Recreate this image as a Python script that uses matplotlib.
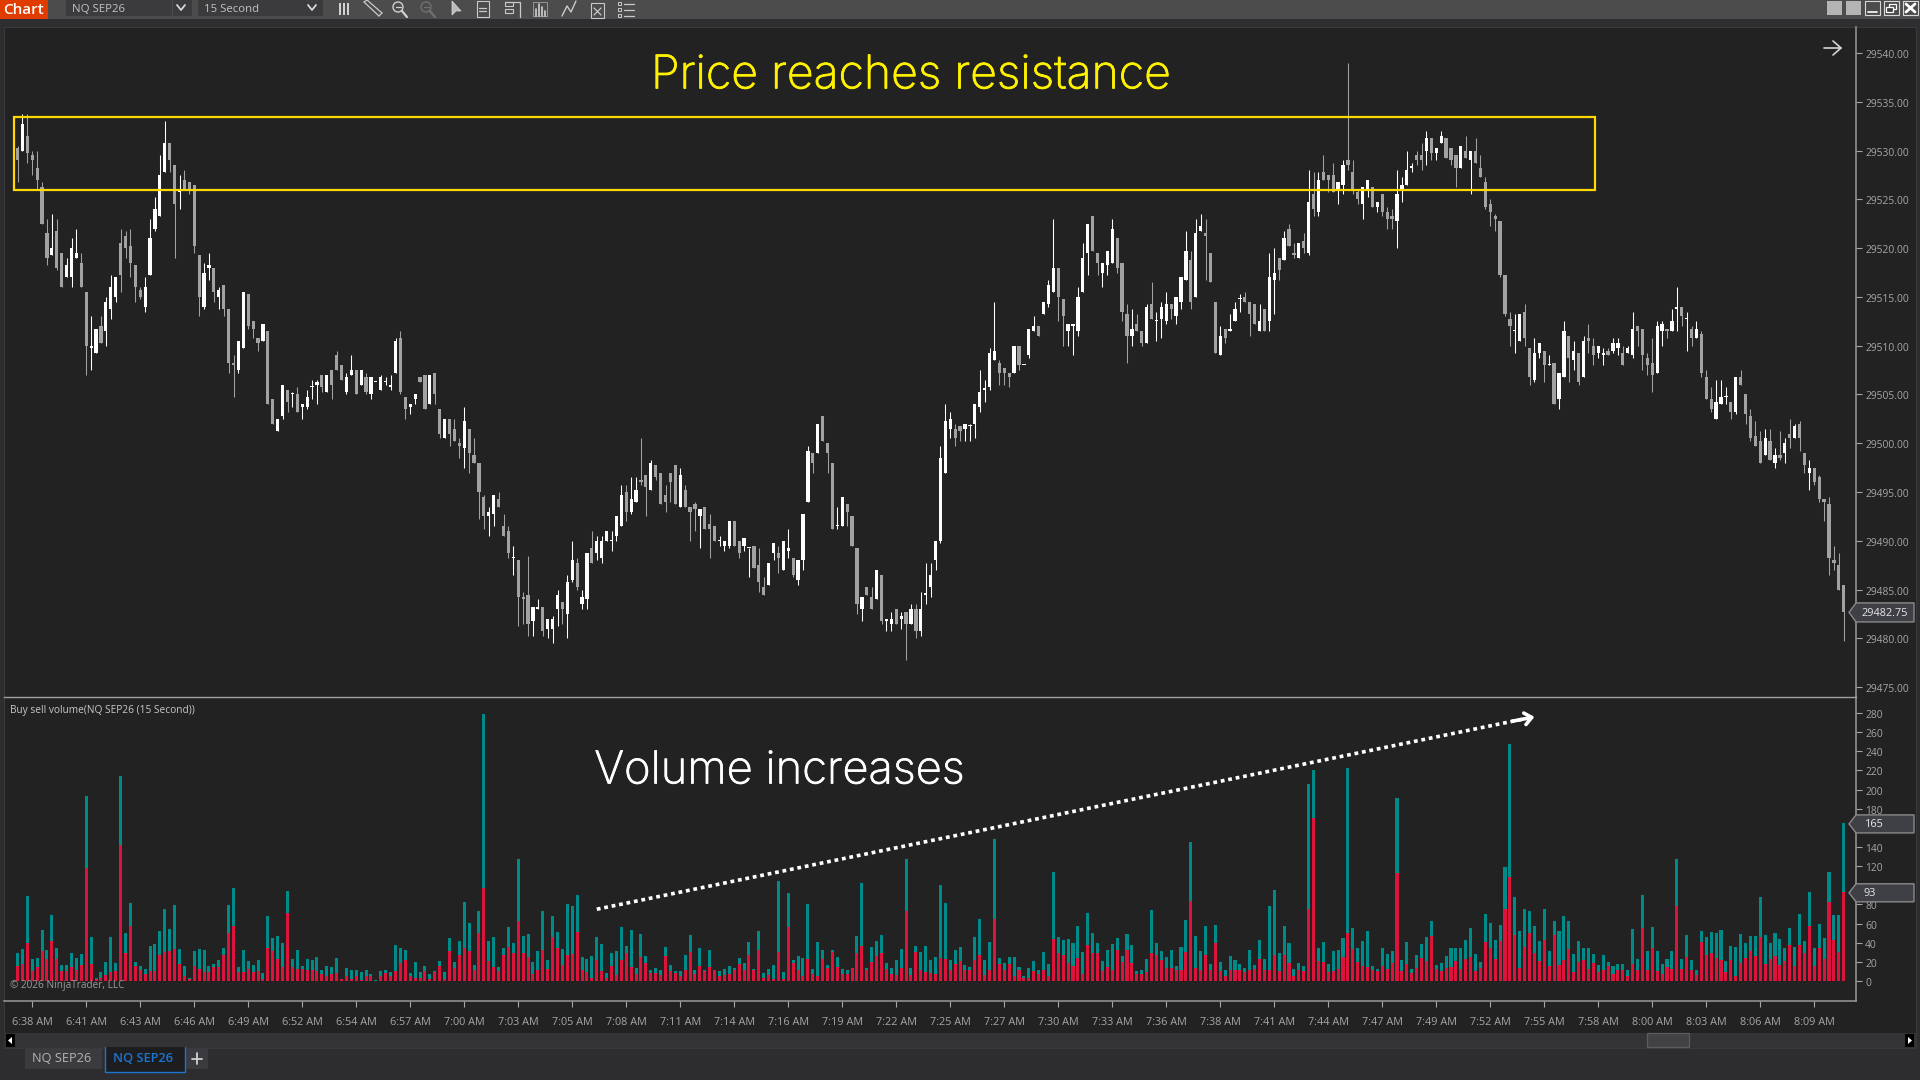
import numpy as np
import matplotlib
matplotlib.use("Agg")
import matplotlib.pyplot as plt
import matplotlib.patheffects as pe
from matplotlib.patches import Rectangle, Polygon
from matplotlib.transforms import ScaledTranslation

PRICE_BASE = 29475.0
open_pts = [
55.25,55,56.5,54.5,53.25,51.25,46.5,44.25,46.75,44.5,
42,42,44,43.5,40.5,34.75,34.25,37,36.5,38.75,
40,45.5,46.25,45.25,43.25,40.75,39,42.25,47,48.25,
52.75,55.75,53.5,50.75,52,51.75,51.5,44.25,39,43,
43,40,41.25,38.75,33.25,32.5,34.75,40.25,37.5,35.75,
35.5,36.5,29.5,26.25,27.75,30.5,30,30,28.75,28.75,
30.75,31,32,30.25,32.5,34,33,30.25,32,32.5,
31,31.75,30,31.25,30.5,31.25,30.75,32.25,35.75,29.75,
28.75,29.5,31.75,32,29,32.25,28.5,25.5,27.5,26.5,
25,24.5,26.5,23.75,23,19.5,17.5,17.75,19.25,16.5,
16,13.25,13,9.25,9.5,6.75,8,8.25,6,6,
8,8.75,7.5,11,12.75,8.5,9,14.25,13.75,13.25,
15,15,15.5,16.5,20,18,19,21.25,21.75,20.25,
22.75,22,19.75,22,22.75,18.5,20.25,18.5,18.75,17.5,
18.5,16.75,16.5,15,14.5,14.5,17,15,14.5,14.25,
14.5,12.5,10.25,10.5,13.75,13.75,12,14,13.25,11,
13,19,24,24,27.75,25,23,16.5,16.5,18.75,
17.5,14.25,8,10.25,9.25,9,11.5,6.75,6.5,8,
7,7.75,6.5,8,5.75,9.5,10.25,13,15,22,
26.5,26.5,26.75,26.5,26.75,27,28.75,30.5,30.75,33.5,
33.25,32.75,32.25,32.25,35,33,34,36.5,37,38.25,
39.25,40.5,43,39.75,36.5,37,36.5,40.5,44.5,48.25,
44.5,42.5,43.25,43.5,46,43.5,38.25,36,37.25,36.5,
35.25,39.25,37.5,37.75,37.5,39.25,38,39.5,41.75,43.75,
40,46.75,46.5,44.5,39.5,34,36.75,36.5,37.5,39.75,
40,39.5,39.25,36.5,38.75,37.5,41.75,44,43.75,47,
44.5,44,45.75,44.5,50.5,48.75,52.75,52.5,52.5,51,
51.5,54,52.75,50.75,49.5,51,51.25,49.25,50.5,48.75,
48.25,47.75,51,51.5,53.25,54.5,54.5,55,56.25,54.75,
55.75,56.25,55.25,54.5,53.25,55,54,55,53.25,51.75,
49.5,48.25,47.75,42.25,37.75,36.5,35.5,38.5,34.75,31.5,
34.25,34.5,33,33.25,29.5,31.75,36,33.5,34.25,31.75,
35.75,35,34.25,34,34.5,34.5,34.75,34.25,34.25,34,
37,36.75,33.75,33.25,32.25,36.5,36.75,36.5,38.75,39,
37.75,36.75,35.75,36.25,31.75,29.5,27.5,29,29.75,29.25,
28.25,31.75,30,27.75,25.75,25.25,23.75,25.25,23,23.75,
24,26,25.5,27,24,22,22.5,21.5,19.25,18.75,
13,12.5,10.5]
high_pts = [
55.5,58.75,58.75,55,55,51.75,48,48.5,48,44.5,
44,46,47,44.5,40.5,38,36.75,38,40,42.25,
42,47,46.75,47,43.25,41,42,48,50.25,54.5,
58,55.75,53.5,52.5,53,51.75,51.5,44.25,43.5,44.5,
43,41,41.25,38.75,34,35.5,40.5,40.25,37.5,35.75,
37.25,36.5,29.5,27.5,31,30.5,30.25,30.75,29,30.5,
31.5,31.5,32,32,32.5,34.5,33,32.25,34,32.5,
32.5,32.25,31.75,31.25,32,31.75,32,35.75,36.5,29.75,
29,30,31.75,32,32,32.25,28.5,27.5,27.5,27.5,
25.5,28.75,26.5,25.5,23,19.75,18.5,19.75,20,17.75,
16.5,14.5,13,9.75,13.5,8.25,9,8.25,7,7.25,
10,8.75,11.5,15,13.25,10,13.75,16,15.5,15.5,
16,16,17.5,20.75,20.75,21.5,21.5,25.5,21.75,23.25,
22.75,22,20.75,22,22.75,22.5,20.75,18.5,19,18.25,
18.5,17.75,16.5,15.5,15,17,17,15,15.25,14.25,
14.5,14.25,11.25,12.75,14.75,14.5,15,16.25,13.25,13,
17.75,24.75,24,27,27.75,25,23,18.5,19.5,18.75,
17.5,14.25,9.25,10.25,10.25,12,11.5,7,7.75,8,
7.75,7.75,8.5,8.5,9.75,12.75,12.75,15,24.75,29,
28.25,27,26.75,27,27,29,32.5,31.5,34.75,39.5,
33.5,32.75,32.25,35,35,33,36.75,38,37,39.5,
41.75,48,43,39.75,37.25,37.25,41,45.5,47.5,48.25,
44.5,43.5,44.75,48,46,43.5,39.25,38.75,38.25,36.5,
39.25,41.5,38.5,39.5,40.5,39.25,40,42,46.75,44.75,
48,48.5,48,44.5,39.5,37,36.75,38.25,39.5,40.25,
40.5,39.5,39.25,39.25,38.75,44.5,45,44,46.75,47.5,
45.5,45.5,46.5,53,52.75,52.75,54.5,52.5,53.75,51.75,
54,64,54,51,51.25,52,51.25,49.75,50.5,49.25,
49,53,52.25,55,53.75,55,55.75,57,56.25,55.25,
57,56.25,55.25,54.5,55.5,56.5,55,56.25,54.5,52.25,
50,48.5,47.75,42.25,38.5,38.25,38.25,39.25,34.75,35.75,
35.25,34.5,34,33.25,32.25,37.5,36,35.5,34.25,36,
37.25,35.75,35,34.75,34.75,35.75,35.75,35,35,38.5,
37,36.75,34.25,35.75,37.5,37.5,36.75,38.75,41,39,
38.5,37,37.5,36.5,32.5,30.75,31.5,31.5,30.75,29.25,
31.75,32.5,30,28.5,27.25,26.25,26.5,26.5,24.5,26.25,
25.5,27.5,27,27.25,24,23.25,22.5,21.75,19.25,19.5,
14.5,13.75,10.5]
low_pts = [
51.75,55,53.75,52.5,51,47.5,43.25,44.25,42.75,41,
42,41,44,41,32,32.5,34.25,35.25,35,37.75,
39.5,40.5,44,42,39.5,39.75,38.5,42.25,46.75,48.25,
52.75,52.75,44,49,51,50.5,44.5,38,38.75,41.75,
39.5,38.75,38,32.25,29.75,32.25,34.75,36.75,35.75,34.5,
35.5,29,27,26.25,27.5,28.25,28.75,28.25,27.5,28.5,
29.5,29,30.25,30.25,29.5,32.5,31.5,30,32,30,
31,30,29.5,31.25,30.5,31,30.5,32.25,30,27.5,
28,29,31.25,28.5,29,29,25.5,25.5,24.75,25.25,
23.5,22.5,22,23,17.25,16.25,15.5,16.5,18.5,15.5,
13.25,11.5,6.25,6.5,5.25,5.25,8,5.25,5,4.5,
6.25,6.5,5,10.75,10,8,8,12.75,13,12.75,
15,14,15,16.5,17,17.75,19,20.75,17.5,20.25,
21.25,18.75,18,19,18.75,18.5,18.5,15,16,14.25,
16.25,13.25,15,14.5,14,14.25,14.5,13.25,14,11.25,
12.25,9.75,9.5,10.5,13,11.75,12,13.25,11.25,10.5,
12,19,22,24,25.25,22,16.25,16.25,16.5,16.5,
14.5,7.5,6.75,9.5,8,9,6.5,5.75,5.75,6.5,
6,2.75,6.5,5,5.25,8.5,9.25,12,14.75,22,
25.5,24.75,25.25,25.25,25.25,25.5,28.25,29.25,30.5,33.5,
31,31,30.75,32.25,32.5,33,33.75,36.5,36,38.25,
39,40.5,37.5,35,35,34,36,40.5,42.25,44.75,
42.25,41,42.25,43.5,42.5,37.5,33.25,35,36.5,35,
35.25,37.75,35.5,35.75,37.25,37.75,37.25,38.75,41.75,38.75,
40,46.75,41.75,41.5,34.25,34,35.25,36.5,37.5,38.5,
39.5,36,37.25,36.5,36.5,36.5,38.25,41.75,43.75,45.25,
44,44,44.5,44.25,48.25,48.25,52,50.75,50.75,49.5,
50.5,53,50.5,49.5,48,50.25,49.25,48.75,48.25,47,
47,45,49.75,51.5,52.75,53.5,53,53.5,54,54,
55.75,54.25,53.5,51.25,53.25,54.25,50.5,53.75,52.25,49,
47.25,46.75,42,38,35,34.25,35.5,35,31,31.25,
33.75,31.25,33,29,28.5,31.75,31.25,32.5,31,31.75,
34.25,33,33.75,33,34,34.25,34,33,34.25,33.75,
35,32.5,32,30.25,32.25,35,35.75,36.5,36.5,37,
34.5,35,35.75,31.75,29.5,28.25,27.5,29,29,27.5,
28,31,27,25.25,24.75,23,23.75,23.25,22.5,23.25,
23,24.5,25.5,24.25,22,20.25,20.75,19,17,11.5,
12,10,4.75]
close_pts = [
54,57.75,54.75,54,52,47.5,44,45,43,41,
43.25,45,44.5,41,35,35,36.75,35.25,39.5,41,
42,42.25,45,43.5,41,40,41,46,49,52.5,
55.75,54,49.5,50.75,51,51,45.25,40,42.5,43.25,
40.5,40.75,38.75,33.25,33,35.5,40.5,37,36.75,35.25,
37.25,29,27,27.5,31,29.25,30,28.25,29,29.75,
30.75,31.25,30.75,32,31,32.5,31.5,31.75,32.5,30,
32.5,30.25,31.75,31.25,31.75,31.25,31,35.5,30.25,28.5,
29,30,31.25,28.5,32,30,26,27.5,26,25.25,
24.75,27.25,24,23,20,17.5,18,19.75,18.5,15.5,
13.75,13.25,9.25,9,6.5,8.25,8.25,5.75,7,7,
9.5,8,10.75,13,10.25,9.25,13.75,12.75,15,15,
16,15,17.5,19.75,18,19.25,20.25,21,20.5,23,
21.5,18.75,19,21,18.75,21.75,18.5,18,18.25,18.25,
16.25,16.25,15,15,15,17,14.5,13.75,15.25,14.25,
12.25,10.75,9.5,12.75,14.75,13.25,15,14.25,11.5,13,
17.75,24.25,23,27,25.25,24,16.25,16.5,19.5,18,
14.5,8.5,9.25,9.5,8,12,6.75,7,7,6.5,
7.25,6.5,8,5.75,8,9.5,11.5,15,23.5,27.25,
27.5,25.5,26.25,27,26.75,29,30.25,30.5,34.25,34.5,
32.25,32.25,31.75,35,33,33,36.75,37,36,39.5,
41.25,43,40,38,37.25,37.25,40,44,47.5,44.75,
43.5,43.5,44.75,47,43,38.5,36,36.75,36.5,35.25,
39,37.75,37.5,39,39.25,38.75,40,42,44.75,39.5,
46.5,47.25,46.25,41.5,34.25,36,35.75,36.75,38.75,39.75,
39.5,38.25,37.25,37.5,36.5,42,42.5,42.75,46,45.25,
44.25,45.5,45,49.75,49,52,52,52,50.75,51.75,
53.5,53.5,51,50,51.25,52,49.25,49.75,48.75,48,
48,50.5,51.5,53,53.25,54,54,56.25,54.75,55.25,
56.5,54.25,54,53.25,55.5,54.25,55,53.75,52.25,49.25,
48.75,48,42.25,38.25,37,36.5,38.25,35.75,31.75,34.25,
35.25,33,33,29,32.25,36.5,33.75,34.5,31.25,35.5,
35.5,34,35,34.25,34,35.25,35.25,33,34.75,36.75,
36.5,34,33,32,37,37.25,36.5,37.5,39,38,
37.75,35.75,36.75,32.25,29.5,28.5,29.25,29.75,29.75,28.25,
31.75,31,28,25.5,24.75,23,25.5,23.25,23.75,23.5,
25,25.5,26.75,25.5,22.75,22.5,21,19.25,19,13.25,
12.75,10,7.75]
volume_total = [
29,33,89,23,24,53,32,69,34,17,
17,29,24,28,193,46,3,9,20,46,
19,214,50,82,20,16,13,37,39,52,
75,54,79,33,16,3,31,33,32,16,
18,22,34,79,97,15,32,21,17,22,
8,68,45,47,40,94,23,32,16,23,
22,25,12,16,15,24,2,14,12,12,
9,11,7,1,10,11,9,38,35,32,
8,20,9,16,7,10,21,9,45,20,
42,83,61,17,73,279,42,46,15,35,
56,40,128,47,49,20,31,73,22,68,
51,33,80,78,90,25,23,26,46,39,
8,29,31,56,37,53,14,49,26,11,
14,11,36,17,10,10,27,48,11,35,
11,32,11,10,13,16,14,24,19,41,
13,52,8,13,17,105,9,92,22,26,
24,80,13,41,32,17,32,25,13,12,
14,47,102,14,36,42,48,19,14,22,
33,127,14,37,30,37,22,25,100,81,
22,32,36,17,15,46,65,22,41,148,
24,19,25,25,15,5,14,21,11,30,
18,114,46,43,44,40,58,30,71,50,
40,21,32,39,45,26,49,38,10,11,
23,74,40,31,25,32,16,36,64,145,
47,31,57,18,59,20,12,26,22,18,
14,32,17,43,23,78,95,29,58,40,
13,19,16,206,221,35,41,18,31,32,
45,223,55,34,42,52,16,13,35,28,
31,191,22,41,13,27,39,46,63,17,
19,26,34,34,34,43,55,28,20,70,
61,43,59,119,248,88,52,75,73,58,
42,75,31,63,52,68,63,28,42,35,
34,28,17,27,20,16,18,18,11,54,
23,90,31,56,31,18,23,31,128,23,
48,22,11,52,46,51,50,53,21,37,
36,49,40,47,47,88,48,40,50,44,
35,55,36,70,42,93,34,60,45,114,
69,69,165]
volume_sell = [
16,18,40,10,15,31,23,42,23,10,
10,15,12,17,118,18,2,3,6,9,
10,142,29,57,16,12,7,10,10,27,
30,31,33,18,5,2,16,13,9,9,
15,15,27,50,57,9,9,13,9,10,
2,34,31,23,15,71,15,13,13,12,
12,10,7,5,7,8,2,5,2,5,
1,5,5,0,5,8,5,10,19,22,
5,3,3,10,2,9,16,2,31,14,
27,35,31,12,50,97,21,15,10,27,
36,29,63,29,25,7,11,32,13,46,
34,17,27,28,51,11,9,3,22,10,
3,16,6,22,29,15,7,25,19,8,
8,6,26,10,8,5,11,30,7,16,
10,15,11,5,6,7,11,18,11,27,
11,32,3,6,2,30,2,56,19,11,
5,23,7,5,23,14,30,15,7,7,
14,29,37,11,20,26,29,13,7,6,
14,73,6,30,11,9,8,7,24,23,
12,18,21,12,11,22,27,6,12,65,
18,12,18,5,12,3,3,10,7,11,
5,44,29,27,19,16,24,7,38,29,
29,10,15,11,32,20,32,19,7,7,
9,29,27,22,14,14,11,11,30,84,
14,11,27,12,40,10,5,12,11,11,
9,11,13,23,12,11,27,10,27,19,
5,11,10,75,170,21,20,9,10,13,
25,50,33,20,16,15,12,10,16,13,
19,113,10,18,8,14,24,21,47,13,
10,14,15,21,13,23,25,10,14,41,
34,23,42,75,109,48,14,36,50,29,
21,43,16,48,17,22,33,9,20,22,
13,19,9,12,16,7,11,11,5,18,
12,55,12,35,10,7,15,13,78,13,
25,12,6,41,27,29,24,22,9,22,
5,19,24,31,26,46,18,23,26,17,
21,38,16,38,29,57,16,35,23,83,
43,30,93]
time_labels = ["6:38 AM","6:41 AM","6:43 AM","6:46 AM","6:49 AM","6:52 AM","6:54 AM","6:57 AM",
"7:00 AM","7:03 AM","7:05 AM","7:08 AM","7:11 AM","7:14 AM","7:16 AM","7:19 AM","7:22 AM",
"7:25 AM","7:27 AM","7:30 AM","7:33 AM","7:36 AM","7:38 AM","7:41 AM","7:44 AM","7:47 AM",
"7:49 AM","7:52 AM","7:55 AM","7:58 AM","8:00 AM","8:03 AM","8:06 AM","8:09 AM"]
price_ticks = list(range(29475, 29545, 5))
volume_ticks = list(range(0, 300, 20))
hidden_volume_labels = (100, 160)
LAST_PRICE, LAST_TOTAL, LAST_SELL = 29482.75, 165, 93

n = len(open_pts)
assert all(len(a) == n for a in (high_pts, low_pts, close_pts, volume_total, volume_sell))
x = np.arange(n)
o = PRICE_BASE + np.array(open_pts, float)
c = PRICE_BASE + np.array(close_pts, float)
h = np.maximum.reduce([PRICE_BASE + np.array(high_pts, float), o, c])
l = np.minimum.reduce([PRICE_BASE + np.array(low_pts, float), o, c])
total = np.array(volume_total, float)
sell = np.array(volume_sell, float)

W, H = 1920, 1080
plt.rcParams['font.family'] = ['Open Sans', 'DejaVu Sans']
fig = plt.figure(figsize=(W / 100, H / 100), dpi=100, facecolor='#2d2d30')

def rect_axes(x0, y0, x1, y1, **kw):
    return fig.add_axes([x0 / W, 1 - y1 / H, (x1 - x0) / W, (y1 - y0) / H], **kw)

bg = fig.add_axes([0, 0, 1, 1], zorder=0)
bg.set_xlim(0, W); bg.set_ylim(H, 0); bg.axis('off')
bg.add_patch(Rectangle((0, 0), W, 19, fc='#4c4c4c', ec='none'))
bg.add_patch(Rectangle((0, 19), W, 8, fc='#2e2e30', ec='none'))
bg.add_patch(Rectangle((4, 27), 1912, 1021, fc='#222222', ec='#39393c', lw=0.8))
bg.add_patch(Rectangle((4, 1033), 1912, 15, fc='#333335', ec='none'))

XL = (-2.75, 374.5)
ax_p = rect_axes(4, 27, 1856, 697, zorder=1, facecolor='none')
ax_v = rect_axes(4, 697, 1856, 1001, zorder=1, facecolor='none')
UP, DOWN = '#ffffff', '#a2a2a2'
colors = np.where(c >= o, UP, DOWN)
ax_p.vlines(x, l, h, colors=colors, lw=0.75, zorder=2)
ax_p.bar(x, np.maximum(np.abs(c - o), 0.12), bottom=np.minimum(o, c), width=0.66, color=colors, linewidth=0, zorder=3)
ax_p.set_xlim(*XL); ax_p.set_ylim(29474.0, 29542.66)

TEAL, RED = '#008b8b', '#dc143c'
ax_v.bar(x, sell, width=0.62, color=RED, linewidth=0, zorder=3)
ax_v.bar(x, total - sell, bottom=sell, width=0.62, color=TEAL, linewidth=0, zorder=3)
ax_v.set_xlim(*XL); ax_v.set_ylim(-20.9, 296.8)

GR = '#a6a6a6'
for ax in (ax_p, ax_v):
    for s in ax.spines.values():
        s.set_visible(False)
    ax.spines['right'].set_visible(True)
    ax.spines['right'].set_color('#9a9a9a')
    ax.spines['right'].set_linewidth(1.1)
    ax.yaxis.tick_right()
    ax.tick_params(axis='y', colors=GR, length=4.3, width=0.8, pad=2.2, labelsize=7.4)
ax_p.spines['bottom'].set_visible(True)
ax_p.spines['bottom'].set_color('#a0a0a0'); ax_p.spines['bottom'].set_linewidth(1.0)
ax_v.spines['bottom'].set_visible(True)
ax_v.spines['bottom'].set_color('#9a9a9a'); ax_v.spines['bottom'].set_linewidth(1.1)
ax_p.set_xticks([])
ax_p.set_yticks(price_ticks); ax_p.set_yticklabels([f'{p:.2f}' for p in price_ticks])
ax_v.set_yticks(volume_ticks)
ax_v.set_yticklabels(['' if v in hidden_volume_labels else str(v) for v in volume_ticks])
ax_v.set_xticks(3 + 11 * np.arange(len(time_labels)))
ax_v.set_xticklabels(time_labels)
ax_v.tick_params(axis='x', colors=GR, length=4.3, width=0.8, pad=7.2, labelsize=7.8)
nudge = ScaledTranslation(0, -1 / 100, fig.dpi_scale_trans)
for ax in (ax_p, ax_v):
    for lbl in ax.get_yticklabels():
        lbl.set_transform(lbl.get_transform() + nudge)

# annotations
thick = lambda col: [pe.withStroke(linewidth=0.55, foreground=col)]
ax_p.add_patch(Rectangle((-0.7, 29526.0), 322.0, 7.45, fc='none', ec='#ffd800', lw=1.6, zorder=4))
ax_p.text(182, 29537.6, 'Price reaches resistance', color='#fff200', fontsize=33.4, family='Inter',
          fontweight='light', ha='center', va='center', zorder=5, path_effects=thick('#fff200'))
ax_v.text(117.5, 219, 'Volume increases', color='#ffffff', fontsize=32.6, family='Inter',
          fontweight='light', ha='left', va='center', zorder=5, path_effects=thick('#ffffff'))
ax_v.plot([118, 306.5], [75, 273.5], color='white', lw=2.6, linestyle=(0, (1.05, 1.05)), zorder=5, dash_capstyle='butt')
ax_v.annotate('', xy=(309, 276), xytext=(304.5, 271.5), zorder=5,
              arrowprops=dict(arrowstyle='->,head_length=0.5,head_width=0.42', color='white', lw=2.6, shrinkA=0, shrinkB=0))
ax_v.text(0.0032, 0.955, 'Buy sell volume(NQ SEP26 (15 Second))', transform=ax_v.transAxes, color='#c8c8c8', fontsize=7.3, va='center', ha='left', zorder=6)
ax_v.text(-1.5, -5.0, '© 2026 NinjaTrader, LLC', color='#9a9a9a', fontsize=7.2, va='center', ha='left', zorder=6)

# interface
ui = fig.add_axes([0, 0, 1, 1], zorder=10, facecolor='none')
ui.set_xlim(0, W); ui.set_ylim(H, 0); ui.axis('off')

def box(x0, y0, x1, y1, fc, ec='none', lw=0.8, z=1):
    ui.add_patch(Rectangle((x0, y0), x1 - x0, y1 - y0, fc=fc, ec=ec, lw=lw, zorder=z))

def stroke(xs, ys, col='#c9c9c9', lw=0.9):
    ui.plot(xs, ys, color=col, lw=lw, solid_capstyle='round', zorder=3)

box(0, 0, 48, 19, '#e13c00')
ui.text(23, 10, 'Chart', color='white', fontsize=11, fontweight='semibold', ha='center', va='center')
box(66, 0, 172, 16, '#3b3b3d'); box(173, 0, 192, 16, '#3b3b3d')
ui.text(72, 9, 'NQ SEP26', color='#c2c2c2', fontsize=8.2, ha='left', va='center')
box(198, 0, 323, 16, '#3b3b3d')
ui.text(204, 9, '15 Second', color='#c2c2c2', fontsize=8.2, ha='left', va='center')
stroke([177, 181, 185], [5, 10, 5], '#d8d8d8', 1.3)
stroke([308, 312, 316], [5, 10, 5], '#d8d8d8', 1.3)
# toolbar icons
for ix in (340, 344, 348):
    box(ix - 1, 3, ix + 1, 15, '#d0d0d0')
stroke([364, 379], [2, 16]); stroke([367, 382], [0, 13]); stroke([364, 367], [2, 0]); stroke([379, 382], [16, 13])
for cx, col in ((398, '#d0d0d0'), (426, '#707070')):
    ui.add_patch(plt.Circle((cx, 7), 5, fc='none', ec=col, lw=1.0, zorder=3))
    stroke([cx + 4, cx + 9], [11, 17], col, 1.6); stroke([cx - 2.5, cx + 2.5], [7, 7], col, 0.9)
ui.add_patch(Polygon([(452, 1), (452, 15), (456, 11), (461, 11)], fc='#bbbbbb', ec='#dddddd', lw=0.5, zorder=3))
box(477, 1, 489, 17, 'none', '#c9c9c9', 0.8, 3); stroke([479, 486], [8, 8]); stroke([479, 486], [11, 11])
stroke([505, 520, 520], [2, 2, 17]); box(505, 2, 513, 6, 'none', '#c9c9c9', 0.8, 3); box(505, 9, 513, 13, 'none', '#c9c9c9', 0.8, 3)
box(533, 2, 547, 16, 'none', '#a0a0a0', 0.6, 3)
for ix, t in ((536, 9), (539, 4), (542, 7), (545, 11)):
    stroke([ix, ix], [t, 16], '#d0d0d0', 1.2)
stroke([562, 567, 571, 576], [16, 6, 12, 1], '#c9c9c9', 1.0)
box(591, 3, 604, 18, 'none', '#c9c9c9', 0.8, 3); stroke([594, 601], [8, 15]); stroke([601, 594], [8, 15])
for iy in (2, 8, 14):
    box(618, iy, 621, iy + 3, 'none', '#c9c9c9', 0.7, 3); stroke([624, 634], [iy + 1.5, iy + 1.5])
# window buttons
box(1827, 1, 1842, 15, '#b4b4b4'); box(1846, 1, 1861, 15, '#b4b4b4')
for bx in (1865, 1884, 1903):
    box(bx, 1, bx + 15, 15, 'none', '#d8d8d8', 0.8, 3)
stroke([1868, 1877], [12, 12], 'white', 1.2)
box(1889, 4, 1896, 9, 'none', 'white', 0.9, 3); box(1886, 7, 1893, 12, '#404040', 'white', 0.9, 3)
stroke([1906, 1915], [4, 12], 'white', 2.0); stroke([1915, 1906], [4, 12], 'white', 2.0)
# chart-side arrow
stroke([1824, 1841], [48, 48], '#d6d6d6', 1.2); stroke([1833, 1841, 1833], [41, 48, 55], '#d6d6d6', 1.2)

# price / volume tags placed from the axes' own scales
def tag(ax, value, text, y_half, right, text_x):
    y = H - ax.transData.transform((0, value))[1] + 0.8
    pts = [(1849, y), (1856, y - y_half), (right, y - y_half), (right, y + y_half), (1856, y + y_half)]
    ui.add_patch(Polygon(pts, closed=True, fc='#3f3f46', ec='#8a8a8a', lw=1.0, zorder=4))
    ui.text(text_x, y + 0.8, text, color='#e8e8e8', fontsize=7.8, va='center', ha='left', zorder=5)

fig.canvas.draw()
tag(ax_p, LAST_PRICE, f'{LAST_PRICE:.2f}', 9.5, 1914, 1862)
tag(ax_v, LAST_TOTAL, str(LAST_TOTAL), 9, 1914, 1865)
tag(ax_v, LAST_SELL, str(LAST_SELL), 9, 1914, 1864)

# scrollbar and tabs
box(6, 1034, 15, 1047, 'black'); ui.add_patch(Polygon([(12, 1037), (12, 1044), (8, 1040.5)], fc='white', ec='none', zorder=3))
box(1905, 1034, 1914, 1047, 'black'); ui.add_patch(Polygon([(1908, 1037), (1908, 1044), (1912, 1040.5)], fc='white', ec='none', zorder=3))
box(1647, 1033, 1689, 1047, '#424244', '#5c5c5c', 0.9)
box(25, 1048, 102, 1069, '#3a3a3f')
ui.text(62, 1058.5, 'NQ SEP26', color='#b4b4b4', fontsize=9.2, ha='center', va='center')
box(105, 1047, 185, 1072, '#1d1d20')
stroke([105, 105, 185, 185], [1047, 1072, 1072, 1047], '#1b75d0', 1.0)
ui.text(143, 1058.5, 'NQ SEP26', color='#1b75d0', fontsize=9.2, fontweight='semibold', ha='center', va='center')
box(186, 1048, 208, 1069, '#3a3a3f')
stroke([197, 197], [1053, 1064], '#d0d0d0', 1.3); stroke([192, 202], [1058.5, 1058.5], '#d0d0d0', 1.3)

fig.savefig('out.png', dpi=100, facecolor=fig.get_facecolor())
